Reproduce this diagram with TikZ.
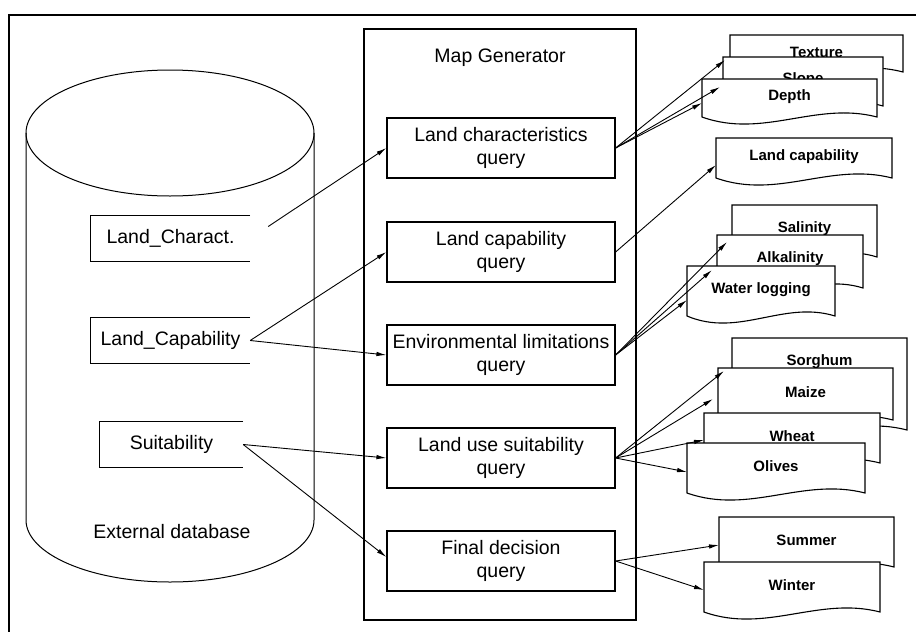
\documentclass[tikz,border=0pt]{standalone}
\usepackage{fontspec}
\setmainfont{Liberation Sans}
\usetikzlibrary{arrows.meta}

\newcommand{\qfont}{\fontsize{19.5}{23}\selectfont}
\newcommand{\dfont}{\fontsize{15}{18}\selectfont\bfseries}

\tikzset{
    frameline/.style={line width=1.2pt},
    query/.style={draw, line width=1.2pt, minimum width=228, minimum height=60, align=center, font=\qfont},
    dbitem/.style={minimum width=159, minimum height=45, font=\qfont},
    docline/.style={fill=white, draw, line width=1.1pt},
    doctext/.style={font=\dfont},
    flow/.style={line width=0.9pt, -{Latex[length=10pt,width=4.5pt]}},
}

% printed map sheet: box with a wavy lower edge
% #1 name, #2 left, #3 top, #4 right, #5 bottom, #6 text
\newcommand{\mapsheet}[6]{%
    \filldraw[docline] (#2,#3) -- (#4,#3) -- (#4,#5)
        .. controls ({#2+0.65*(#4-#2)},{#5-16}) and ({#2+0.35*(#4-#2)},{#5+22}) .. (#2,#5) -- cycle;
    \node[doctext] (#1) at ({(#2+#4)/2},{#3+min(0.47*(#5-#3),24)}) {#6};
}

\begin{document}
\begin{tikzpicture}[x=1pt, y=-1pt]
    \useasboundingbox (0,0) rectangle (916,632);

    % Outer frame (top and left edge only)
    \draw[frameline] (9,632) -- (9,15) -- (916,15);

    % External database cylinder
    \draw[line width=1pt] (170,133) ellipse [x radius=144, y radius=63];
    \draw[line width=1pt] (26,133) -- (26,520)
        .. controls (26,554) and (90.5,582) .. (170,582)
        .. controls (249.5,582) and (314,554) .. (314,520) -- (314,133);
    \node[font=\qfont] (extdb) at (172,532) {External database};

    \node[dbitem] (lchar) at (170.5,238.5) {Land\_Charact.};
    \node[dbitem] (lcap) at (170.5,340.5) {Land\_Capability};
    \node[dbitem, minimum width=143] (lsuit) at (171.5,444.5) {Suitability};
    \foreach \n in {lchar, lcap, lsuit}
        \draw[frameline] (\n.north east) -| (\n.south west) -- (\n.south east);

    % Map generator with its queries
    \node[draw, frameline, minimum width=272, minimum height=591] (mapgen) at (500,324.5) {};
    \node[font=\qfont] (mgtitle) at (500,58) {Map Generator};

    \node[query] (q1) at (501,148) {Land characteristics\\query};
    \node[query] (q2) at (501,252) {Land capability\\query};
    \node[query] (q3) at (501,355) {Environmental limitations\\query};
    \node[query] (q4) at (501,458) {Land use suitability\\query};
    \node[query] (q5) at (501,561) {Final decision\\query};

    % Output maps, back sheets first
    \mapsheet{texture}{730}{35}{903}{72}{Texture}
    \mapsheet{slope}{723}{57}{883}{106}{Slope}
    \mapsheet{depth}{702}{79}{877}{117}{Depth}

    \mapsheet{lcapmap}{716}{138}{892}{178}{Land capability}

    \mapsheet{salinity}{732}{205}{877}{257}{Salinity}
    \mapsheet{alkalinity}{717}{235}{863}{288}{Alkalinity}
    \mapsheet{waterlog}{687}{266}{835}{316}{Water logging}

    \mapsheet{sorghum}{732}{338}{907}{430}{Sorghum}
    \mapsheet{maize}{718}{368}{893}{420}{Maize}
    \mapsheet{wheat}{704}{413}{880}{463}{Wheat}
    \mapsheet{olives}{687}{443}{865}{493}{Olives}

    \mapsheet{summer}{719}{517}{894}{567}{Summer}
    \mapsheet{winter}{704}{562}{880}{612}{Winter}

    % Where the arrows hit the sheets
    \coordinate (texture-in) at (725,60);
    \coordinate (slope-in) at (720,87);
    \coordinate (depth-in) at (702,103);
    \coordinate (lcapmap-in) at (716,165);
    \coordinate (salinity-in) at (727,242);
    \coordinate (alkalinity-in) at (712,270);
    \coordinate (waterlog-in) at (687,300);
    \coordinate (sorghum-in) at (724,371);
    \coordinate (maize-in) at (713,399);
    \coordinate (wheat-in) at (704,440);
    \coordinate (olives-in) at (687,472);
    \coordinate (summer-in) at (719,545);
    \coordinate (winter-in) at (704,590);

    % Database to queries
    \draw[flow] ([xshift=18, yshift=12]lchar.east) -- (q1.west);
    \draw[flow] (lcap.east) -- (q2.west);
    \draw[flow] (lcap.east) -- (q3.west);
    \draw[flow] (lsuit.east) -- (q4.west);
    \draw[flow] (lsuit.east) -- ([yshift=4]q5.west);

    % Queries to maps
    \foreach \m in {texture, slope, depth}
        \draw[flow] (q1.east) -- (\m-in);
    \draw[flow] (q2.east) -- (lcapmap-in);
    \foreach \m in {salinity, alkalinity, waterlog}
        \draw[flow] (q3.east) -- (\m-in);
    \foreach \m in {sorghum, maize, wheat, olives}
        \draw[flow] (q4.east) -- (\m-in);
    \foreach \m in {summer, winter}
        \draw[flow] (q5.east) -- (\m-in);

\end{tikzpicture}
\end{document}
